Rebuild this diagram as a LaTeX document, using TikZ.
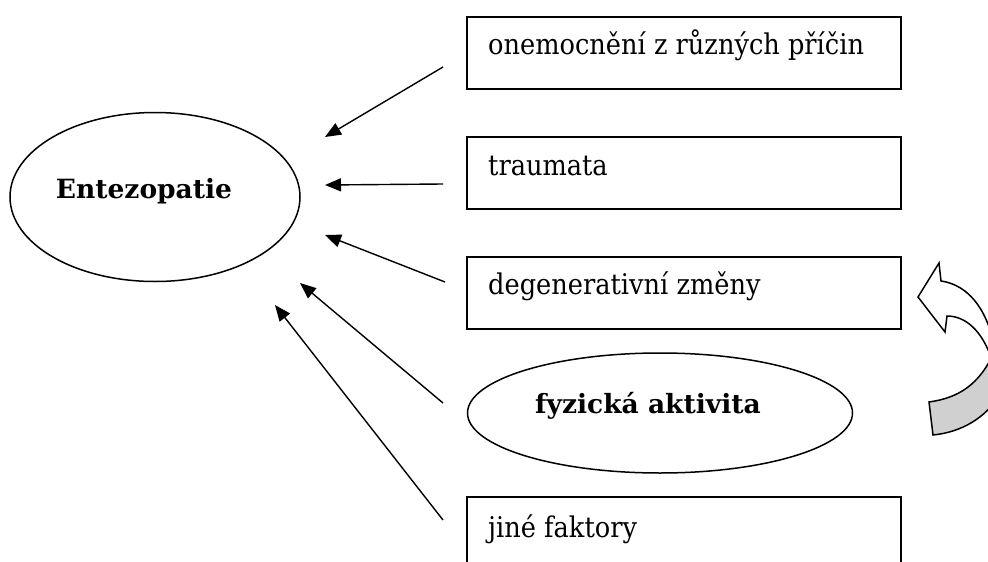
\documentclass[tikz,border=0pt]{standalone}
\usepackage{fontspec}
\setmainfont{DejaVu Serif}
\newfontfamily\regfont[FakeStretch=0.9]{DejaVu Serif}
\usetikzlibrary{arrows.meta,shapes.geometric}
\definecolor{bandgray}{RGB}{208,208,208}
\begin{document}
\begin{tikzpicture}[x=1pt,y=-1pt,
  box/.style={draw, line width=1.5pt, minimum width=434pt, minimum height=72pt, inner sep=0pt},
  txt/.style={font=\regfont\fontsize{28.5}{32}\selectfont, inner sep=0pt, anchor=base west},
  btxt/.style={font=\fontsize{26.5}{30}\selectfont\bfseries, inner sep=0pt, anchor=base},
  oval/.style={draw, ellipse, line width=1.5pt, inner sep=0pt},
  arr/.style={line width=1.4pt, -{Triangle[length=16pt,width=13pt]}},
  bandline/.style={line width=1.5pt, line join=miter}]
\useasboundingbox (0,0) rectangle (988,562);
\clip (0,0) rectangle (988,562);

% main ellipse
\node[oval, minimum width=290pt, minimum height=169pt] (ent) at (155,197) {};
\node[btxt] (entt) at (144,198) {Entezopatie};

% boxes
\node[box] (b1) at (684,53) {};
\node[txt] (t1) at (488,54) {onemocnění z různých příčin};
\node[box] (b2) at (684,173) {};
\node[txt] (t2) at (488,175) {traumata};
\node[box] (b3) at (684,293) {};
\node[txt] (t3) at (488,294) {degenerativní změny};
\node[oval, minimum width=385pt, minimum height=120pt] (fa) at (660,413) {};
\node[btxt] (fat) at (648,413) {fyzická aktivita};
\node[box] (b5) at (684,533) {};
\node[txt] (t5) at (488,537) {jiné faktory};

% arrow ends
\coordinate (s1) at (443,67);  \coordinate (e1) at (325,137);
\coordinate (s2) at (443,184); \coordinate (e2) at (325,185);
\coordinate (s3) at (445,282); \coordinate (e3) at (325,235);
\coordinate (s4) at (443,403); \coordinate (e4) at (300,283);
\coordinate (s5) at (443,520); \coordinate (e5) at (275,305);
\draw[arr] (s1) -- (e1);
\draw[arr] (s2) -- (e2);
\draw[arr] (s3) -- (e3);
\draw[arr] (s4) -- (e4);
\draw[arr] (s5) -- (e5);

% curved block arrow (back face)
\filldraw[bandline, fill=bandgray] (929,402) .. controls (958,398) and (980,385) .. (995,350)
  -- (1000,395) .. controls (985,418) and (962,432) .. (933,435) -- cycle;
% front face with head
\filldraw[bandline, fill=white] (918,297) -- (939,263) -- (941,281)
  .. controls (962,284) and (983,300) .. (993,340) -- (992,360)
  .. controls (982,330) and (965,316) .. (947,316) -- (945,332) -- cycle;
\end{tikzpicture}
\end{document}
